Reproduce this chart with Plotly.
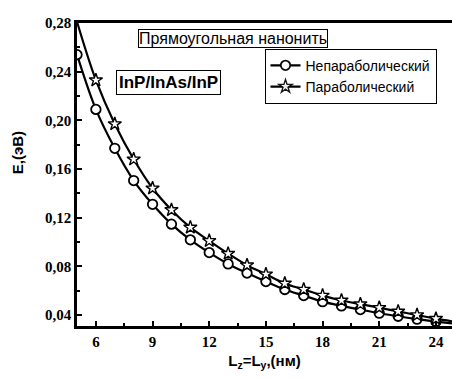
import plotly.graph_objects as go

L = [5, 6, 7, 8, 9, 10, 11, 12, 13, 14, 15, 16, 17, 18, 19, 20, 21, 22, 23, 24, 25]
E_nonpar = [0.254, 0.209, 0.177, 0.1505, 0.131, 0.1147, 0.1018, 0.0913, 0.082, 0.0745,
            0.0675, 0.061, 0.056, 0.051, 0.0475, 0.0445, 0.0415, 0.039, 0.0366, 0.0346, 0.0328]
E_par = [0.281, 0.233, 0.197, 0.168, 0.1442, 0.1264, 0.112, 0.101, 0.0905, 0.081,
         0.0735, 0.066, 0.061, 0.056, 0.052, 0.049, 0.046, 0.043, 0.040, 0.0370, 0.0345]
name_nonpar = "Непараболический"
name_par = "Параболический"
yticks = [0.04, 0.08, 0.12, 0.16, 0.20, 0.24, 0.28]
xticks = [6, 9, 12, 15, 18, 21, 24]

ytext = ["<b>" + f"{v:.2f}".replace(".", ",") + "</b>" for v in yticks]
xtext = ["<b>" + str(v) + "</b>" for v in xticks]

n = len(L)
op_nonpar = [1] * (n - 1) + [0]
op_par = [0] + [1] * (n - 2) + [0]

fig = go.Figure()
fig.add_trace(go.Scatter(
    x=L, y=E_nonpar, name=name_nonpar, mode="lines+markers",
    line=dict(color="black", width=2.2, shape="spline"),
    marker=dict(symbol="circle", size=9.5, color="white", opacity=op_nonpar,
                line=dict(color="black", width=1.8)),
))
fig.add_trace(go.Scatter(
    x=L, y=E_par, name=name_par, mode="lines+markers",
    line=dict(color="black", width=2.2, shape="spline"),
    marker=dict(symbol="star", size=10, color="white", opacity=op_par,
                line=dict(color="black", width=1.4)),
))

SERIF = "Liberation Serif"
SANS = "Liberation Sans"
tickfont = dict(family=SERIF, size=15, color="black")
fig.update_layout(
    width=452, height=378,
    margin=dict(l=77, r=0, t=23, b=52),
    paper_bgcolor="white", plot_bgcolor="white",
    font=dict(family=SANS, color="black"),
    showlegend=True,
    legend=dict(x=0.5, y=0.915, xanchor="left", yanchor="top",
                bordercolor="black", borderwidth=1, bgcolor="white",
                font=dict(family=SANS, size=14, color="black"),
                tracegroupgap=0, itemwidth=30),
    xaxis=dict(range=[5, 24.85], tickvals=xticks, ticktext=xtext, ticks="inside",
               ticklen=5, tickwidth=2, tickcolor="black", showline=True,
               linecolor="black", linewidth=2.5, mirror=True, showgrid=False,
               zeroline=False, tickfont=tickfont,
               minor=dict(dtick=1.5, tick0=4.5, ticks="inside", ticklen=3,
                          tickwidth=1.5, tickcolor="black"),
               title=dict(text="<b>L<sub>z</sub>=L<sub>y</sub>,(нм)</b>",
                          font=dict(family=SANS, size=15),
                          standoff=7)),
    yaxis=dict(range=[0.031, 0.28], tickvals=yticks, ticktext=ytext,
               ticks="inside", ticklen=5, tickwidth=2, tickcolor="black",
               showline=True, linecolor="black", linewidth=2.5, mirror=False,
               showgrid=False, zeroline=False, tickfont=tickfont,
               minor=dict(dtick=0.02, tick0=0.0, ticks="inside", ticklen=3,
                          tickwidth=1.5, tickcolor="black")),
)

fig.add_annotation(xref="paper", yref="paper", x=-0.16, y=0.57, xanchor="center",
                   yanchor="middle", text="<b>E,(эВ)</b>", showarrow=False,
                   textangle=-90,
                   font=dict(family=SANS, size=15, color="black"))
fig.add_annotation(xref="paper", yref="paper", x=0.162, y=0.948, xanchor="left",
                   yanchor="middle", text="Прямоугольная нанонить", showarrow=False,
                   font=dict(family=SANS, size=16, color="black"),
                   bordercolor="black", borderwidth=1, borderpad=0, bgcolor="white")
fig.add_annotation(xref="paper", yref="paper", x=0.105, y=0.803, xanchor="left",
                   yanchor="middle", text="<b>InP/InAs/InP</b>", showarrow=False,
                   font=dict(family=SANS, size=17, color="black"),
                   bordercolor="black", borderwidth=1, borderpad=2, bgcolor="white")

fig.write_html("out.html")
